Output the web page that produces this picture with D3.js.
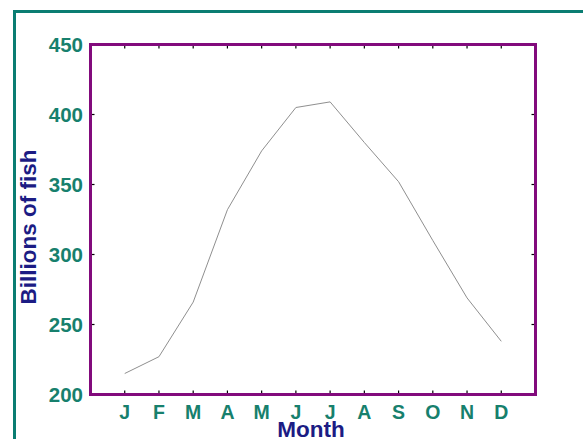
<!DOCTYPE html>
<html><head><meta charset="utf-8">
<script src="https://cdn.jsdelivr.net/npm/d3@7"></script>
<style>body{margin:0;background:#fff}svg{display:block}text{font-family:"Liberation Sans",Arial,sans-serif;font-weight:bold}</style>
</head><body>
<svg id="c" width="583" height="439"></svg>
<script>
const months = ["J","F","M","A","M","J","J","A","S","O","N","D"];
const fish = [215, 227, 266, 332, 374, 405, 409, 380, 352, 310, 269, 238];
const yTicks = [200, 250, 300, 350, 400, 450];
const yLabel = "Billions of fish";
const xLabel = "Month";

const svg = d3.select("#c");
const L = 90.5, R = 535.5, T = 44.5, B = 394.5;
const x = d3.scaleLinear().domain([-1, 12]).range([L, R]);
const y = d3.scaleLinear().domain([200, 450]).range([B, T]);
const teal = "#17806d", purple = "#820a7c";

// outer border
svg.append("rect").attr("x", 14.5).attr("y", 11.5).attr("width", 600).attr("height", 500)
  .attr("fill", "none").attr("stroke", "#0a7d72").attr("stroke-width", 3);

// line
svg.append("path").datum(fish)
  .attr("fill", "none").attr("stroke", "#8f8f8f").attr("stroke-width", 1)
  .attr("d", d3.line().x((d, i) => x(i)).y(d => y(d)));

// ticks (inward)
const tk = svg.append("g").attr("stroke", "#000").attr("stroke-width", 1.2);
months.forEach((m, i) => {
  tk.append("line").attr("x1", x(i)).attr("x2", x(i)).attr("y1", B).attr("y2", B - 4);
  tk.append("line").attr("x1", x(i)).attr("x2", x(i)).attr("y1", T).attr("y2", T + 4);
});
yTicks.forEach(v => {
  tk.append("line").attr("x1", L).attr("x2", L + 4).attr("y1", y(v)).attr("y2", y(v));
  tk.append("line").attr("x1", R).attr("x2", R - 4).attr("y1", y(v)).attr("y2", y(v));
});

// frame
svg.append("rect").attr("x", L).attr("y", T).attr("width", R - L).attr("height", B - T)
  .attr("fill", "none").attr("stroke", purple).attr("stroke-width", 3);

// y tick labels
svg.append("g").selectAll("text").data(yTicks).join("text")
  .attr("x", 83).attr("y", d => y(d)).attr("dy", "0.36em")
  .attr("text-anchor", "end").attr("fill", teal).attr("font-size", 20.5)
  .text(d => d);

// x tick labels
svg.append("g").selectAll("text").data(months).join("text")
  .attr("x", (d, i) => x(i)).attr("y", 418.5)
  .attr("text-anchor", "middle").attr("fill", teal).attr("font-size", 19.5)
  .text(d => d);

// axis titles
svg.append("text").attr("x", 311).attr("y", 437).attr("text-anchor", "middle")
  .attr("fill", "#1c1c84").attr("font-size", 22.5).text(xLabel);
svg.append("text").attr("transform", "translate(36,227) rotate(-90)").attr("text-anchor", "middle")
  .attr("fill", "#1c1c84").attr("font-size", 22.5).text(yLabel);
</script>
</body></html>
